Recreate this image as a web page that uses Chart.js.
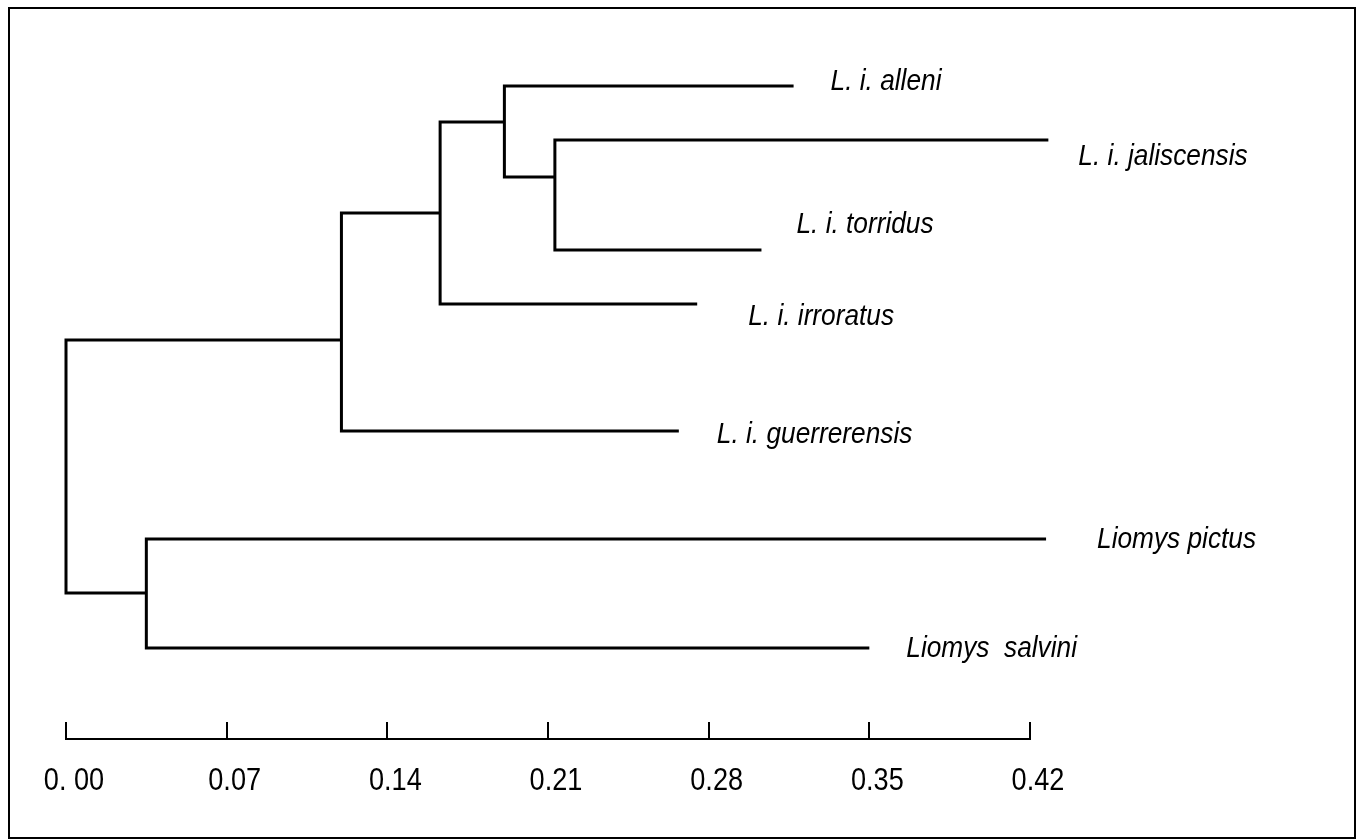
<!DOCTYPE html>
<html>
<head>
<meta charset="utf-8">
<script src="https://cdn.jsdelivr.net/npm/chart.js@4.4.1/dist/chart.umd.min.js"></script>
<style>
  html, body { margin: 0; padding: 0; background: #fff; }
  #wrap { position: relative; width: 1357px; height: 840px; }
  #frame { position: absolute; left: 8px; top: 7px; width: 1344px; height: 828px; border: 2px solid #000; pointer-events: none; }
  canvas { position: absolute; left: 0; top: 0; }
</style>
</head>
<body>
<div id="wrap">
  <canvas id="tree" width="1357" height="840"></canvas>
  <div id="frame"></div>
</div>
<script>
// leaves of the dendrogram (top to bottom)
const leafNames = ['L. i. alleni', 'L. i. jaliscensis', 'L. i. torridus', 'L. i. irroratus',
  'L. i. guerrerensis', 'Liomys pictus', 'Liomys  salvini'];
const leafDist = [0.317, 0.428, 0.303, 0.275, 0.267, 0.427, 0.350];
const leafPos = [4.7, 10.1, 21.1, 26.5, 39.2, 50.0, 60.9];

// internal nodes: distance, vertical position, children
const nodeNames = ['n1', 'n2', 'n3', 'n4', 'n5', 'root'];
const nodeDist = [0.213, 0.191, 0.163, 0.120, 0.035, 0.0];
const nodePos = [13.8, 8.3, 17.4, 30.1, 55.4, 30.0];
const nodeKids = [
  ['L. i. jaliscensis', 'L. i. torridus'],
  ['L. i. alleni', 'n1'],
  ['n2', 'L. i. irroratus'],
  ['n3', 'L. i. guerrerensis'],
  ['Liomys pictus', 'Liomys  salvini'],
  ['n4', 'n5']
];

const tickValues = [0, 0.07, 0.14, 0.21, 0.28, 0.35, 0.42];
const tickLabels = ['0. 00', '0.07', '0.14', '0.21', '0.28', '0.35', '0.42'];

// label placement relative to branch tip, px (dx, baseline dy)
const labelOffsets = [[37, 4], [30, 25], [35, -17], [51, 21], [38, 12], [51, 9], [37, 9]];

const FONT = "'Liberation Sans', Arial, sans-serif";
const SQUEEZE = 0.875; // reference uses a narrow face

function pointOf(name) {
  let i = leafNames.indexOf(name);
  if (i >= 0) return { x: leafDist[i], y: leafPos[i] };
  i = nodeNames.indexOf(name);
  return { x: nodeDist[i], y: nodePos[i] };
}

const datasets = nodeNames.map((n, i) => {
  const a = pointOf(nodeKids[i][0]);
  const b = pointOf(nodeKids[i][1]);
  const px = nodeDist[i];
  return {
    label: n,
    data: [a, { x: px, y: a.y }, { x: px, y: b.y }, b],
    showLine: true,
    borderColor: '#000',
    borderWidth: 3,
    pointRadius: 0,
    tension: 0,
    clip: false,
    borderJoinStyle: 'miter'
  };
});

function narrowText(ctx, text, x, y, align) {
  ctx.save();
  ctx.translate(x, y);
  ctx.scale(SQUEEZE, 1);
  ctx.textAlign = align;
  ctx.fillText(text, 0, 0);
  ctx.restore();
}

const textLayer = {
  id: 'textLayer',
  afterDraw(chart) {
    const { ctx, scales: { x, y } } = chart;
    ctx.save();
    ctx.fillStyle = '#000';
    ctx.textBaseline = 'alphabetic';

    ctx.font = 'italic 30px ' + FONT;
    leafNames.forEach((name, i) => {
      const [dx, dy] = labelOffsets[i];
      narrowText(ctx, name, x.getPixelForValue(leafDist[i]) + dx, y.getPixelForValue(leafPos[i]) + dy, 'left');
    });

    ctx.font = '31px ' + FONT;
    const base = chart.chartArea.bottom + 51;
    tickValues.forEach((v, i) => {
      narrowText(ctx, tickLabels[i], x.getPixelForValue(v) + 8, base, 'center');
    });
    ctx.restore();
  }
};

new Chart(document.getElementById('tree'), {
  type: 'scatter',
  data: { datasets },
  plugins: [textLayer],
  options: {
    responsive: false,
    animation: false,
    events: [],
    layout: { padding: { left: 66, right: 327, top: 39, bottom: 0 } },
    plugins: { legend: { display: false }, tooltip: { enabled: false } },
    scales: {
      x: {
        type: 'linear',
        min: 0,
        max: 0.42,
        afterBuildTicks: s => { s.ticks = tickValues.map(v => ({ value: v })); },
        afterFit: s => { s.height = 101; },
        grid: { drawOnChartArea: false, drawTicks: true, tickLength: -17, color: '#000', lineWidth: 2 },
        border: { display: true, color: '#000', width: 2 },
        ticks: { display: false }
      },
      y: {
        type: 'linear',
        display: false,
        reverse: true,
        min: 0,
        max: 70
      }
    }
  }
});
</script>
</body>
</html>
